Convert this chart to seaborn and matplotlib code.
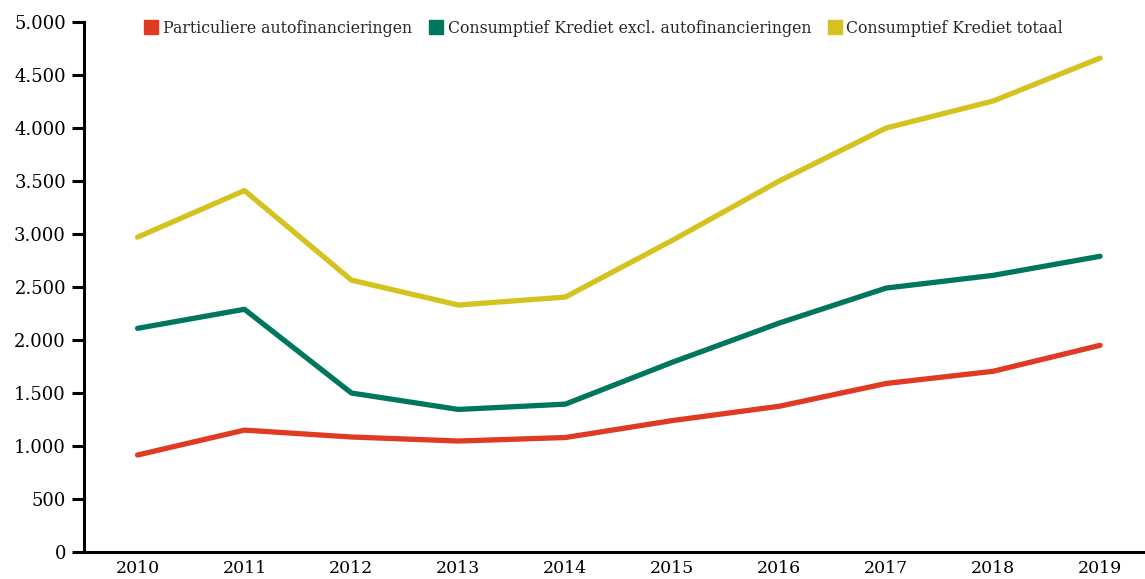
import pandas as pd
import matplotlib.pyplot as plt
import seaborn as sns
from matplotlib.ticker import FuncFormatter
from matplotlib.lines import Line2D

years = [2010, 2011, 2012, 2013, 2014, 2015, 2016, 2017, 2018, 2019]
auto = [915, 1150, 1085, 1047, 1080, 1240, 1375, 1590, 1705, 1950]
excl_auto = [2110, 2290, 1500, 1345, 1395, 1790, 2160, 2490, 2610, 2790]
totaal = [2970, 3410, 2565, 2330, 2405, 2940, 3500, 4000, 4255, 4660]

labels = ['Particuliere autofinancieringen',
          'Consumptief Krediet excl. autofinancieringen',
          'Consumptief Krediet totaal']
colors = ['#E03A22', '#00765F', '#D4C21E']

df = pd.DataFrame({'Jaar': [str(y) for y in years] * 3,
                   'Waarde': auto + excl_auto + totaal,
                   'Reeks': [labels[0]] * 10 + [labels[1]] * 10 + [labels[2]] * 10})

sns.set_style('white')
plt.rcParams['font.family'] = ['DejaVu Serif']

fig = plt.figure(figsize=(11.45, 5.79), dpi=100)
ax = fig.add_axes([0.0734, 0.0466, 0.9266, 0.9154])

sns.lineplot(data=df, x='Jaar', y='Waarde', hue='Reeks', palette=colors,
             linewidth=3.8, ax=ax, legend=False, sort=False)

ax.set_ylim(0, 5000)
ax.set_xlim(-0.5, 9.42)
ax.set_yticks(range(0, 5001, 500))
ax.yaxis.set_major_formatter(FuncFormatter(lambda v, p: f'{int(v):,}'.replace(',', '.')))
ax.set_xlabel('')
ax.set_ylabel('')

for s in ['top', 'right']:
    ax.spines[s].set_visible(False)
for s in ['left', 'bottom']:
    ax.spines[s].set_linewidth(2.2)
    ax.spines[s].set_color('black')

ax.tick_params(axis='y', length=9, width=2.2, direction='out', left=True,
               labelsize=13, pad=4, colors='black')
ax.tick_params(axis='x', length=0, labelsize=12.5, pad=6, colors='black')

handles = [Line2D([], [], marker='s', linestyle='', markersize=10,
                  markerfacecolor=c, markeredgecolor=c) for c in colors]
fig.legend(handles, labels, loc='upper left', bbox_to_anchor=(0.113, 0.99),
           ncol=3, frameon=False, fontsize=11.3, handletextpad=0.25,
           columnspacing=1.0, handlelength=1.0)

fig.savefig('out.png', dpi=100)
